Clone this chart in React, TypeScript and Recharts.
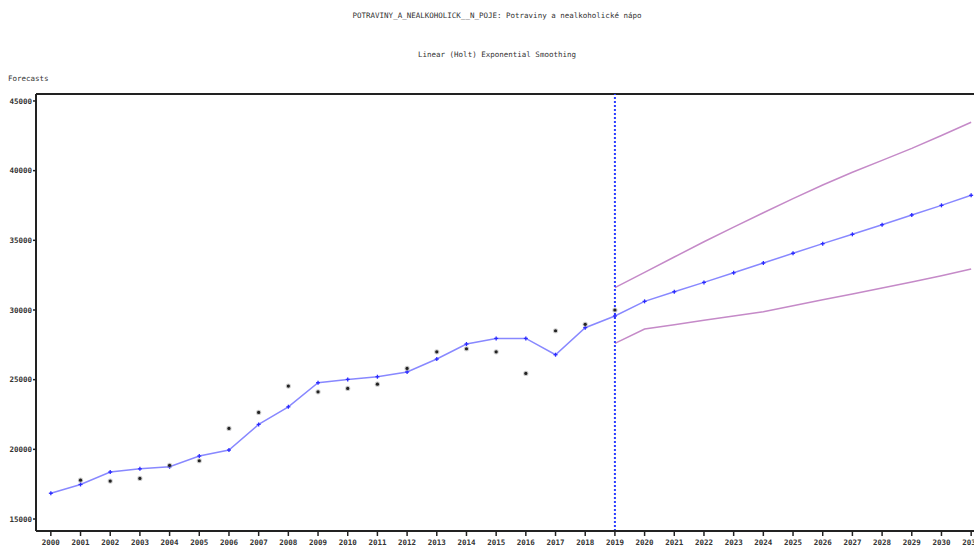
import {
  ComposedChart,
  Line,
  Scatter,
  XAxis,
  YAxis,
  ReferenceLine,
} from "recharts";

// years 2000..2031
const years = [
  2000, 2001, 2002, 2003, 2004, 2005, 2006, 2007, 2008, 2009, 2010, 2011, 2012,
  2013, 2014, 2015, 2016, 2017, 2018, 2019, 2020, 2021, 2022, 2023, 2024, 2025,
  2026, 2027, 2028, 2029, 2030, 2031,
];

// fitted + forecast (Holt), 2000..2031
const fitted = [
  16850, 17480, 18370, 18600, 18750, 19520, 19950, 21790, 23050, 24780, 25020,
  25210, 25550, 26480, 27560, 27960, 27960, 26790, 28730, 29570, 30620, 31310,
  31980, 32670, 33370, 34070, 34760, 35430, 36120, 36820, 37510, 38230,
];

// observed values, 2000..2019 (no visible marker for 2000)
const actual = [
  null, 17790, 17720, 17910, 18850, 19180, 21500, 22650, 24540, 24130, 24370,
  24680, 25810, 27000, 27220, 27000, 25450, 28510, 28970, 30000,
];

// confidence band, 2019..2031
const bandYears = [
  2019, 2020, 2021, 2022, 2023, 2024, 2025, 2026, 2027, 2028, 2029, 2030, 2031,
];
const upper = [
  31600, 32700, 33800, 34900, 35950, 36980, 37990, 38970, 39880, 40740, 41600,
  42520, 43470,
];
const lower = [
  27600, 28630, 28940, 29260, 29570, 29870, 30300, 30740, 31150, 31580, 32010,
  32460, 32940,
];

const yTicks = [15000, 20000, 25000, 30000, 35000, 40000, 45000];
const yDomain = [14140, 45500];
const splitYear = 2019;

const rows = years.map((year, i) => {
  const b = bandYears.indexOf(year);
  return {
    year,
    fitted: fitted[i],
    actual: i < actual.length ? actual[i] : null,
    upper: b >= 0 ? upper[b] : null,
    lower: b >= 0 ? lower[b] : null,
  };
});

const font = "'DejaVu Sans Mono', 'Liberation Mono', monospace";

function PlusDot(props: any) {
  const { cx, cy } = props;
  if (cx == null || cy == null) return null;
  return (
    <g>
      <line x1={cx - 2} y1={cy} x2={cx + 2} y2={cy} stroke="#2b2bff" strokeWidth={1.3} />
      <line x1={cx} y1={cy - 2} x2={cx} y2={cy + 2} stroke="#2b2bff" strokeWidth={1.3} />
    </g>
  );
}

function StarDot(props: any) {
  const { cx, cy } = props;
  if (cx == null || cy == null) return null;
  return (
    <g>
      <circle cx={cx} cy={cy} r={2.6} fill="#999" opacity={0.5} />
      <circle cx={cx} cy={cy} r={1.6} fill="#222" />
    </g>
  );
}

export default function App() {
  const textStyle = {
    position: "absolute" as const,
    fontFamily: font,
    fontSize: 7.5,
    color: "#333",
    whiteSpace: "nowrap" as const,
    lineHeight: "10px",
  };
  return (
    <div
      style={{
        position: "absolute",
        left: 0,
        top: 0,
        width: 974,
        height: 547,
        overflow: "hidden",
        background: "#fff",
      }}
    >
      <div style={{ ...textStyle, top: 11, left: 0, width: 994, textAlign: "center" }}>
        POTRAVINY_A_NEALKOHOLICK__N_POJE: Potraviny a nealkoholické nápo
      </div>
      <div style={{ ...textStyle, top: 50, left: 0, width: 994, textAlign: "center" }}>
        Linear (Holt) Exponential Smoothing
      </div>
      <div style={{ ...textStyle, top: 74, left: 8 }}>Forecasts</div>

      <ComposedChart
        width={1000}
        height={547}
        data={rows}
        margin={{ top: 94, right: 14, bottom: 0, left: 0 }}
        style={{ position: "absolute", left: 0, top: 0 }}
      >
        <XAxis
          dataKey="year"
          type="number"
          domain={[1999.5, 2031.5]}
          ticks={years}
          interval={0}
          height={16}
          tickSize={5}
          tickMargin={4}
          axisLine={{ stroke: "#222", strokeWidth: 2 }}
          tickLine={{ stroke: "#222", strokeWidth: 1.5 }}
          tick={{ fill: "#333", fontSize: 7.5, fontFamily: font, fontWeight: 600 }}
        />
        <YAxis
          type="number"
          domain={yDomain}
          ticks={yTicks}
          width={36}
          tickSize={3}
          tickMargin={1}
          axisLine={{ stroke: "#222", strokeWidth: 2 }}
          tickLine={{ stroke: "#222", strokeWidth: 1.5 }}
          tick={{ fill: "#333", fontSize: 7.5, fontFamily: font, fontWeight: 600 }}
          allowDataOverflow
        />
        {/* top frame line */}
        <ReferenceLine y={yDomain[1]} stroke="#222" strokeWidth={2} />
        <Line
          dataKey="upper"
          stroke="#c58ac8"
          strokeWidth={1.5}
          dot={false}
          connectNulls={false}
          isAnimationActive={false}
        />
        <Line
          dataKey="lower"
          stroke="#c58ac8"
          strokeWidth={1.5}
          dot={false}
          connectNulls={false}
          isAnimationActive={false}
        />
        <Line
          dataKey="fitted"
          stroke="#8888ff"
          strokeWidth={1.5}
          dot={<PlusDot />}
          isAnimationActive={false}
        />
        <ReferenceLine
          x={splitYear}
          stroke="#2a3cff"
          strokeWidth={2}
          strokeDasharray="2 2"
        />
        <Scatter dataKey="actual" shape={<StarDot />} isAnimationActive={false} />
      </ComposedChart>
    </div>
  );
}
